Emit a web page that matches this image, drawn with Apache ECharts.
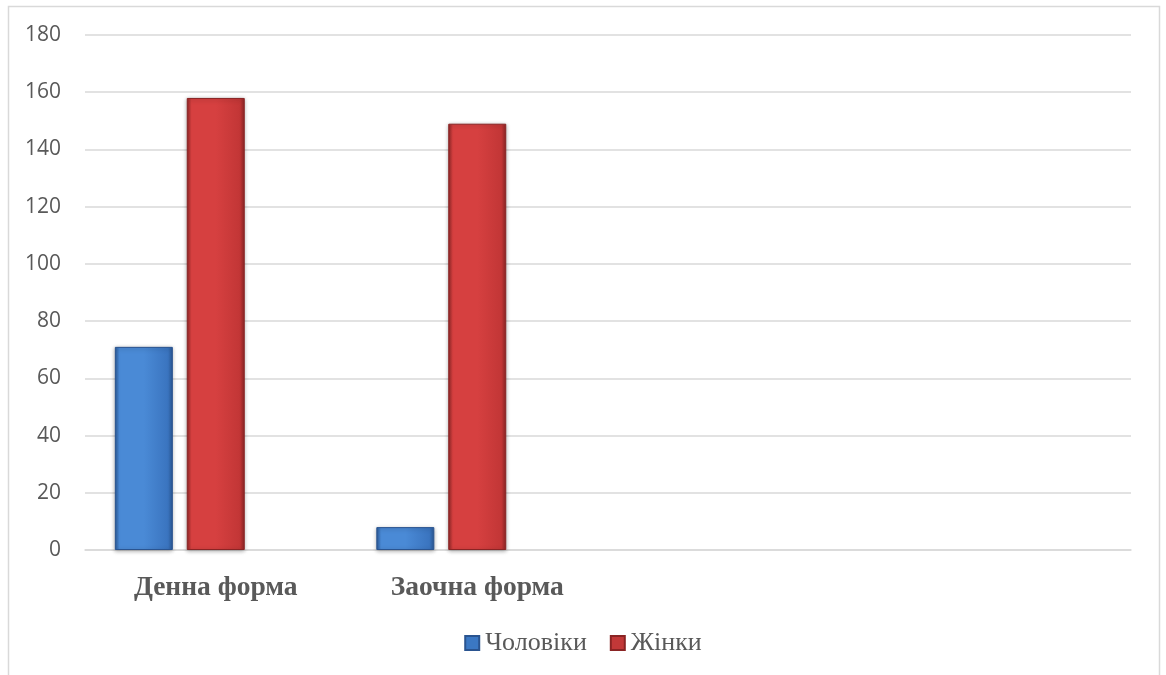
<!DOCTYPE html>
<html>
<head>
<meta charset="utf-8">
<script src="https://cdn.jsdelivr.net/npm/echarts@6/dist/echarts.min.js"></script>
<style>html,body{margin:0;padding:0;background:#fff}#c{width:1166px;height:675px}</style>
</head>
<body>
<div id="c"></div>
<script>
const categories = ['Денна форма', 'Заочна форма', '', ''];
const men = [71, 8, null, null];
const women = [158, 149, null, null];
const yTicks = [0, 20, 40, 60, 80, 100, 120, 140, 160, 180];

const chart = echarts.init(document.getElementById('c'));
function grad(c1, c2, c3) {
  return new echarts.graphic.LinearGradient(0, 0, 1, 0, [
    {offset: 0, color: c3}, {offset: 0.08, color: c1}, {offset: 0.5, color: c1},
    {offset: 0.92, color: c2}, {offset: 1, color: c3}
  ]);
}
const blue = grad('#4a8ad6', '#3a74bf', '#2a5896');
const red = grad('#d64040', '#c23636', '#8e2626');
chart.setOption({
  animation: false,
  graphic: [{
    type: 'rect', shape: {x: 8.5, y: 6.5, width: 1151, height: 700},
    style: {fill: 'none', stroke: '#d9d9d9', lineWidth: 1.5}, z: -1
  }],
  grid: {left: 85, right: 35, top: 35, bottom: 125, containLabel: false},
  legend: {
    data: [
      {name: 'Чоловіки', itemStyle: {color: '#3b78c4'}},
      {name: 'Жінки', itemStyle: {color: '#c23838'}}
    ],
    left: 'center', top: 625, itemWidth: 14, itemHeight: 14, itemGap: 23,
    icon: 'rect',
    textStyle: {fontFamily: 'Liberation Serif', fontSize: 26, color: '#595959', padding: [0, 0, 0, 1]}
  },
  xAxis: {
    type: 'category', data: categories,
    axisLine: {lineStyle: {color: '#d9d9d9', width: 1.5}},
    axisTick: {show: false},
    axisLabel: {fontFamily: 'Liberation Serif', fontWeight: 'bold', fontSize: 27.5, color: '#595959', margin: 24}
  },
  yAxis: {
    type: 'value', min: 0, max: 180, interval: 20,
    axisLine: {show: false}, axisTick: {show: false},
    splitLine: {lineStyle: {color: '#d9d9d9', width: 1.5}},
    axisLabel: {fontFamily: 'Open Sans', fontSize: 21, color: '#595959', margin: 24,
      formatter: v => yTicks.includes(v) ? String(v) : ''}
  },
  series: [
    {name: 'Чоловіки', type: 'bar', data: men, barWidth: 58, barGap: '24%', barCategoryGap: '22.7%',
      itemStyle: {color: blue, borderColor: '#2a5490', borderWidth: 1, shadowColor: 'rgba(0,0,0,0.3)', shadowBlur: 4, shadowOffsetY: 1}},
    {name: 'Жінки', type: 'bar', data: women, barWidth: 58, barGap: '24%',
      itemStyle: {color: red, borderColor: '#8a2424', borderWidth: 1, shadowColor: 'rgba(0,0,0,0.3)', shadowBlur: 4, shadowOffsetY: 1}},
    {name: '', type: 'bar', data: [null, null, null, null], barWidth: 58, barGap: '24%'}
  ]
});
</script>
</body>
</html>
